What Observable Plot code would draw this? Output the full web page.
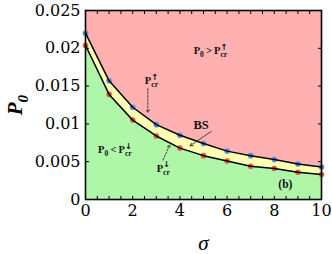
<!DOCTYPE html>
<html><head><meta charset="utf-8">
<script src="https://cdn.jsdelivr.net/npm/d3@7"></script>
<script src="https://cdn.jsdelivr.net/npm/@observablehq/plot@0.6"></script>
<style>body{margin:0;background:#fff}</style>
</head><body>
<script>
const sigma = [0,1,2,3,4,5,6,7,8,9,10];
const upper = [0.0220,0.0157,0.0122,0.0099,0.0085,0.0074,0.0064,0.0058,0.0053,0.0047,0.0043];
const lower = [0.0204,0.0139,0.0105,0.0084,0.0068,0.0058,0.0051,0.0044,0.0041,0.0036,0.0033];
const yTicks = [0,0.005,0.01,0.015,0.02,0.025];
const yTickLabels = ["0","0.005","0.01","0.015","0.02","0.025"];
const xTicks = [0,2,4,6,8,10];
const xMinor = d3.range(0,10.01,0.5);
const yMax = 0.025;

const labelText = ["P_0\u2009>\u2009P^↑_cr","P^↑_cr","BS","P_0\u2009<\u2009P^↓_cr","P^↓_cr","(b)"];
const labelX = [5.3,2.8,4.9,1.25,3.3,8.47];
const labelY = [0.0197,0.0157,0.0099,0.0066,0.0041,0.0020];
const labelSize = [10.5,10.5,12.5,10.5,10.5,11.5];

const dashArrows = {x1:[2.64,3.28], y1:[0.0147,0.0052], x2:[2.64,3.57], y2:[0.0115,0.0072]};
const solidArrows = {x1:[5.32], y1:[0.0090], x2:[4.43], y2:[0.0071]};

const rows = sigma.map((s,i)=>({s, up:upper[i], lo:lower[i], top:yMax, zero:0}));
const labels = labelText.map((t,i)=>({t, x:labelX[i], y:labelY[i], fs:labelSize[i]}));
const mk = a => a.x1.map((_,i)=>({x1:a.x1[i],y1:a.y1[i],x2:a.x2[i],y2:a.y2[i]}));
const blank = () => "";

const chart = Plot.plot({
  width:332, height:254,
  marginLeft:85, marginRight:11, marginTop:10, marginBottom:55,
  style:{fontFamily:"DejaVu Serif", fontSize:"16px", background:"white", color:"black", overflow:"visible"},
  x:{domain:[0,10]},
  y:{domain:[0,yMax]},
  marks:[
    Plot.areaY(rows,{x:"s", y1:"up", y2:"top", fill:"#ffb0b0"}),
    Plot.areaY(rows,{x:"s", y1:"lo", y2:"up", fill:"#ffffb4"}),
    Plot.areaY(rows,{x:"s", y1:"zero", y2:"lo", fill:"#b0f6a8"}),
    Plot.dot(rows,{x:"s", y:"up", r:2.8, fill:"#5a88dc"}),
    Plot.dot(rows,{x:"s", y:"lo", r:2.8, fill:"#e0602c"}),
    Plot.line(rows,{x:"s", y:"up", stroke:"black", strokeWidth:1.5}),
    Plot.line(rows,{x:"s", y:"lo", stroke:"black", strokeWidth:1.5}),
    Plot.frame({stroke:"black", strokeWidth:1.6}),
    Plot.axisX({anchor:"bottom", ticks:xMinor, tickSize:-3, tickFormat:blank, label:null}),
    Plot.axisX({anchor:"bottom", ticks:xTicks, tickSize:0, tickPadding:5, label:null}),
    Plot.axisX({anchor:"top", ticks:xMinor, tickSize:-3, tickFormat:blank, label:null}),
    Plot.axisY({anchor:"left", ticks:yTicks, tickSize:-4, tickFormat:blank, label:null}),
    Plot.axisY({anchor:"left", ticks:yTicks, tickSize:0, tickPadding:5, tickFormat:(d)=>yTickLabels[yTicks.indexOf(d)], label:null}),
    Plot.axisY({anchor:"right", ticks:yTicks, tickSize:-4, tickFormat:blank, label:null}),
    Plot.arrow(mk(dashArrows),{x1:"x1",y1:"y1",x2:"x2",y2:"y2", stroke:"#222", strokeWidth:0.8, strokeDasharray:"2,1.5", headLength:6}),
    Plot.arrow(mk(solidArrows),{x1:"x1",y1:"y1",x2:"x2",y2:"y2", stroke:"#222", strokeWidth:0.8, headLength:6}),
    Plot.text(labels,{x:"x", y:"y", text:"t", fontSize:"fs", fontFamily:"Liberation Serif", fontWeight:"bold", fill:"#111"}),
    Plot.text(["P_0"],{frameAnchor:"left", dx:-70, rotate:-90, fontSize:21, fontFamily:"Liberation Serif", fontWeight:"bold", fontStyle:"italic", textAnchor:"middle", lineAnchor:"middle"}),
    Plot.text(["σ"],{frameAnchor:"bottom", dy:44, fontSize:21, fontFamily:"Liberation Serif", fontStyle:"italic", textAnchor:"middle", lineAnchor:"middle"})
  ]
});
document.body.appendChild(chart);

function richify(el){
  const s = el.textContent;
  if(!/[\^_]/.test(s)) return;
  const fs = parseFloat(getComputedStyle(el).fontSize);
  const toks = s.match(/(\^\{[^}]*\}|_\{[^}]*\}|\^[^_^\s]|_[^\s^_\u2009]+|[^\^_]+)/g);
  el.textContent = "";
  let shift = 0, lastSup = null, prevSup = false;
  for(const t of toks){
    const ts = document.createElementNS("http://www.w3.org/2000/svg","tspan");
    let kind = t[0]==="^" ? "sup" : t[0]==="_" ? "sub" : "n";
    let body = kind==="n" ? t : t.slice(1).replace(/^\{|\}$/g,"");
    ts.textContent = body;
    let target = 0;
    if(kind==="sup"){ target = -0.42*fs; ts.style.fontSize = (0.8*fs)+"px"; if(/[↑↓]/.test(body)) ts.style.fontFamily = "DejaVu Sans"; }
    else if(kind==="sub"){ target = 0.28*fs; ts.style.fontSize = (0.72*fs)+"px"; }
    ts.setAttribute("dy", (target-shift)+"px");
    shift = target;
    el.appendChild(ts);
    if(kind==="sub" && prevSup && lastSup){
      ts.setAttribute("dx", (-lastSup.getComputedTextLength())+"px");
    }
    prevSup = kind==="sup";
    if(kind==="sup") lastSup = ts;
  }
}
chart.querySelectorAll('text').forEach(el => { if(!el.querySelector('tspan')) richify(el); });
</script>
</body></html>
